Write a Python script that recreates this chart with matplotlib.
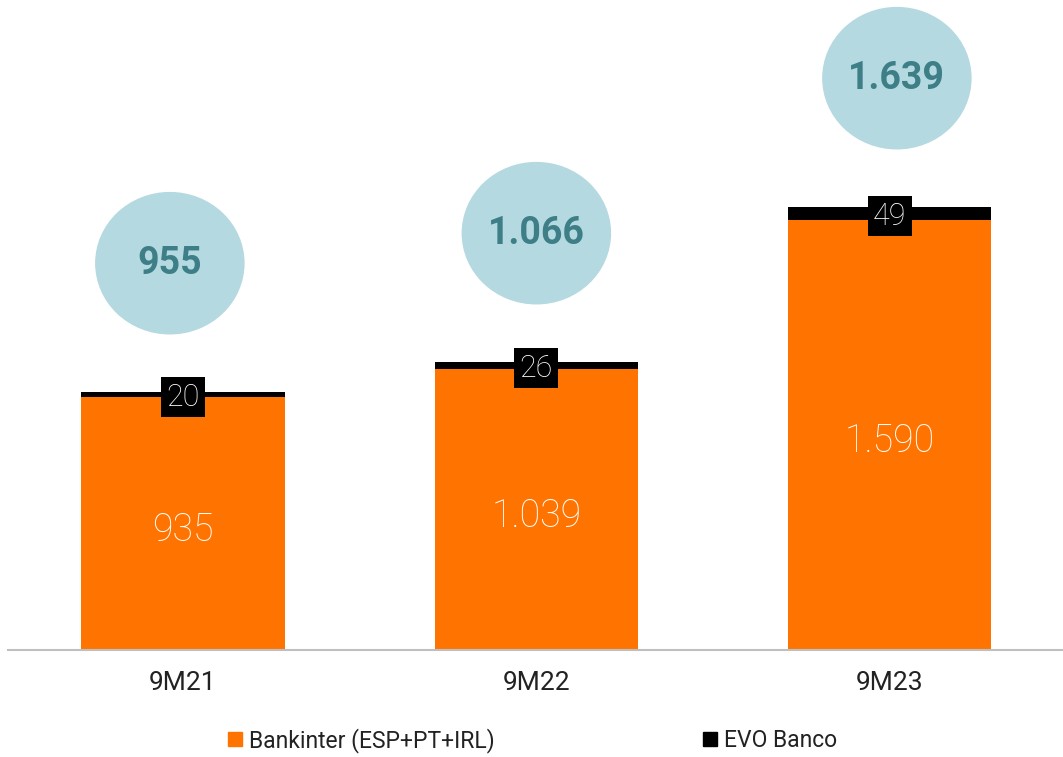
import matplotlib
matplotlib.use("Agg")
import matplotlib.pyplot as plt
from matplotlib.patches import Ellipse
from matplotlib.lines import Line2D

periods = ["9M21", "9M22", "9M23"]
bankinter = [935, 1039, 1590]
evo = [20, 26, 49]
totals = [955, 1066, 1639]
bank_labels = ["935", "1.039", "1.590"]
evo_labels = ["20", "26", "49"]
total_labels = ["955", "1.066", "1.639"]

orange = "#FF7300"
circle_col = "#B5D9E0"
circle_txt = "#3D7E87"

plt.rcParams["font.family"] = ["Roboto", "DejaVu Sans"]

fig = plt.figure(figsize=(10.63, 7.57), dpi=100)
ax = fig.add_axes([0.0075, 0.1413, 0.9925, 0.8587])

x = range(len(periods))
w = 0.575
ax.bar(x, bankinter, width=w, color=orange, zorder=2)
ax.bar(x, evo, width=w, bottom=bankinter, color="black", zorder=2)

ax.set_xlim(-0.495, 2.49)
ax.set_ylim(0, 2403)

# circles are not exactly centred on the bars in the original
shift = [-0.037, 0.0, 0.02]
for i in x:
    ax.text(i, bankinter[i] / 2 - 25, bank_labels[i], ha="center", va="center",
            color="white", fontsize=27, fontweight="light", zorder=3)
    ax.text(i, bankinter[i] + evo[i] / 2 - 10, evo_labels[i], ha="center", va="center",
            color="white", fontsize=22, fontweight="light", zorder=4,
            bbox=dict(boxstyle="square,pad=0.18", fc="black", ec="none"))
    cy = totals[i] + 475
    ax.add_patch(Ellipse((i + shift[i], cy), 0.419, 522, color=circle_col, zorder=1))
    ax.text(i + shift[i], cy, total_labels[i], ha="center", va="center", color=circle_txt,
            fontsize=27, fontweight="bold", zorder=3)

for s in ["top", "right", "left"]:
    ax.spines[s].set_visible(False)
ax.spines["bottom"].set_color("#BFBFBF")
ax.spines["bottom"].set_linewidth(1.5)
ax.set_yticks([])
ax.set_xticks(list(x))
ax.set_xticklabels(periods, fontsize=19, color="#222222")
ax.tick_params(axis="x", length=0, pad=15)

handles = [Line2D([], [], marker="s", linestyle="none", markersize=10, color=orange),
           Line2D([], [], marker="s", linestyle="none", markersize=10, color="black")]
leg = fig.legend(handles, ["Bankinter (ESP+PT+IRL)", "EVO Banco"], loc="center",
                 bbox_to_anchor=(0.501, 0.022), ncol=2, frameon=False, fontsize=16.5,
                 handlelength=0.6, handletextpad=0.3, columnspacing=9.1)
for t in leg.get_texts():
    t.set_color("#222222")

fig.savefig("out.png", dpi=100)
